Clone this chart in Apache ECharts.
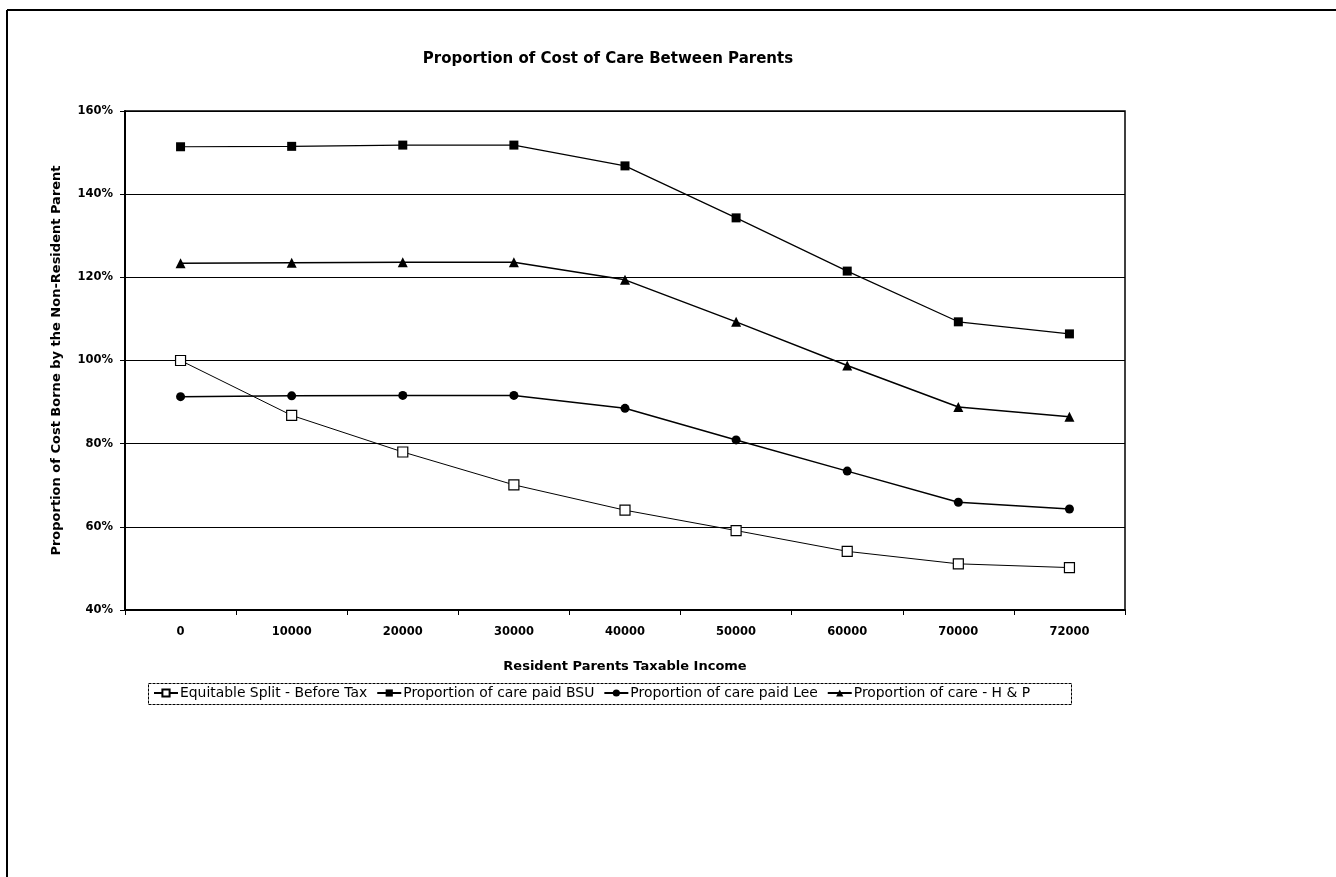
<!DOCTYPE html>
<html>
<head>
<meta charset="utf-8">
<script src="https://cdn.jsdelivr.net/npm/echarts@6/dist/echarts.min.js"></script>
<style>
  html, body { margin: 0; padding: 0; background: #fff; }
  #chart { width: 1336px; height: 877px; }
</style>
</head>
<body>
<div id="chart"></div>
<script>
// Resident parent's taxable income brackets
const incomes = ['0', '10000', '20000', '30000', '40000', '50000', '60000', '70000', '72000'];

// Share of cost borne by the non-resident parent (%)
const equitableSplit = [100, 86.8, 78.0, 70.1, 64.0, 59.1, 54.1, 51.1, 50.2];
const careBSU        = [151.4, 151.5, 151.8, 151.8, 146.8, 134.3, 121.5, 109.3, 106.4];
const careLee        = [91.3, 91.5, 91.6, 91.6, 88.5, 80.9, 73.4, 65.9, 64.3];
const careHP         = [123.4, 123.5, 123.6, 123.6, 119.4, 109.3, 98.8, 88.8, 86.5];

const yTicks = { min: 40, max: 160, step: 20 };

const FONT = '"DejaVu Sans", "Liberation Sans", Arial, sans-serif';
const INK = '#000';

function lineSeries(name, data, symbol, size, filled, width) {
  return {
    name: name,
    type: 'line',
    data: data,
    symbol: symbol,
    symbolSize: size,
    showAllSymbol: true,
    lineStyle: { color: INK, width: width },
    itemStyle: {
      color: filled ? INK : '#fff',
      borderColor: INK,
      borderWidth: filled ? 0 : 1.2
    },
    emphasis: { disabled: true },
    animation: false
  };
}

const chart = echarts.init(document.getElementById('chart'), null, { renderer: 'canvas' });

chart.setOption({
  backgroundColor: '#fff',
  animation: false,
  textStyle: { fontFamily: FONT, color: INK },
  title: {
    text: 'Proportion of Cost of Care Between Parents',
    left: 603,
    textAlign: 'center',
    top: 47,
    textStyle: { fontFamily: FONT, fontSize: 15, fontWeight: 'bold', color: INK }
  },
  grid: {
    left: 125, top: 111, width: 1000, height: 499,
    show: true, borderColor: INK, borderWidth: 1.5, backgroundColor: 'transparent'
  },
  legend: {
    left: 153,
    top: 686,
    itemGap: 9,
    itemWidth: 24,
    itemHeight: 9,
    padding: 0,
    textStyle: { fontFamily: FONT, fontSize: 13.9, color: INK, padding: [0, 0, 0, -3] },
    data: [
      'Equitable Split - Before Tax',
      'Proportion of care paid BSU',
      'Proportion of care paid Lee',
      'Proportion of care - H & P'
    ]
  },
  xAxis: {
    type: 'category',
    data: incomes,
    boundaryGap: true,
    name: 'Resident Parents Taxable Income',
    nameLocation: 'middle',
    nameGap: 50,
    nameTextStyle: { fontFamily: FONT, fontSize: 13, fontWeight: 'bold', color: INK },
    axisLine: { lineStyle: { color: INK, width: 2 } },
    axisTick: { show: true, alignWithLabel: false, length: 5, lineStyle: { color: INK, width: 1 } },
    axisLabel: { margin: 16, fontFamily: FONT, fontSize: 11.5, fontWeight: 'bold', color: INK },
    splitLine: { show: false }
  },
  yAxis: {
    type: 'value',
    min: yTicks.min,
    max: yTicks.max,
    interval: yTicks.step,
    name: 'Proportion of Cost Borne by the Non-Resident Parent',
    nameLocation: 'middle',
    nameRotate: 90,
    nameGap: 62,
    nameTextStyle: { fontFamily: FONT, fontSize: 13, fontWeight: 'bold', color: INK },
    axisLine: { show: true, lineStyle: { color: INK, width: 2 } },
    axisTick: { show: true, length: 5, lineStyle: { color: INK, width: 1 } },
    axisLabel: {
      margin: 12, fontFamily: FONT, fontSize: 11.5, fontWeight: 'bold', color: INK,
      formatter: v => v + '%'
    },
    splitLine: { show: true, lineStyle: { color: INK, width: 1 } }
  },
  series: [
    lineSeries('Equitable Split - Before Tax', equitableSplit, 'rect', 10, false, 1),
    lineSeries('Proportion of care paid BSU', careBSU, 'rect', 9, true, 1.2),
    lineSeries('Proportion of care paid Lee', careLee, 'circle', 9, true, 1.5),
    lineSeries('Proportion of care - H & P', careHP, 'triangle', 10, true, 1.5)
  ],
  graphic: [
    // page frame: top and left rules of the printed sheet
    { type: 'line', shape: { x1: 7, y1: 10, x2: 1336, y2: 10 }, style: { stroke: INK, lineWidth: 2 } },
    { type: 'line', shape: { x1: 7, y1: 10, x2: 7, y2: 877 }, style: { stroke: INK, lineWidth: 2 } },
    // legend box
    {
      type: 'rect',
      shape: { x: 148.5, y: 683.5, width: 923, height: 21 },
      style: { fill: 'none', stroke: INK, lineWidth: 1, lineDash: [3, 1] },
      z: 0
    }
  ]
});
</script>
</body>
</html>
